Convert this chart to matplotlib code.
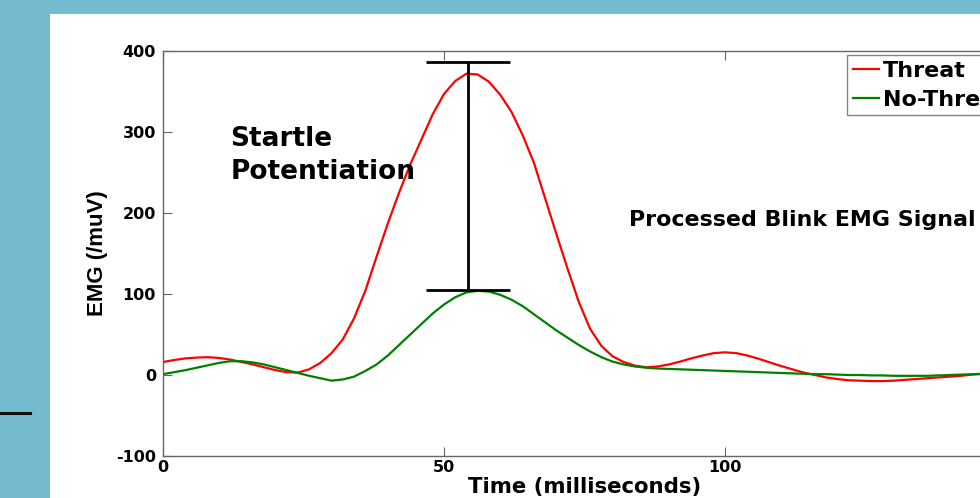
import matplotlib
matplotlib.use("Agg")
import matplotlib.pyplot as plt
from matplotlib.patches import Rectangle
from matplotlib.lines import Line2D

plt.rcParams["axes.unicode_minus"] = False

# ---- data ----
time_ms = list(range(0, 152, 2))
threat = [16, 18.5, 20.5, 21.5, 22, 21, 19, 16, 13, 9.5, 6, 3.5, 3, 7, 15, 27, 44, 70, 104, 146,
          187, 225, 260, 291, 322, 347, 363, 372, 371, 362, 346, 325, 296, 262, 218, 174, 131, 90, 57, 36,
          23, 16, 11.5, 9.5, 10.5, 13, 16.5, 20.5, 24, 27, 28, 27, 24, 20, 15.5, 11, 7, 3, 0, -3,
          -5, -6.5, -7, -7.5, -7.5, -7, -6, -5, -4, -3, -2, -1, 0.5, 1.5, 2.5, 3]
no_threat = [1, 3.5, 6, 9, 12, 15, 17, 17, 15.5, 13, 9.5, 6, 2.5, -1, -4, -7, -5.5, -2, 5, 13,
             24, 37, 50, 63, 76, 87, 96, 102, 104, 103, 99, 93, 85, 75, 65, 55, 46, 37, 29, 22,
             16.5, 13, 10.5, 9, 8, 7.5, 7, 6.5, 6, 5.5, 5, 4.5, 4, 3.5, 3, 2.5, 2, 1.5, 1, 1,
             0.5, 0, 0, -0.5, -0.5, -1, -1, -1, -1, -0.5, 0, 0.5, 1, 1.5, 2, 2.5]
series_labels = ["Threat", "No-Threat"]
bar_time = 54.3
bar_low, bar_high = 105, 386
x_ticks = [0, 50, 100]
y_ticks = [-100, 0, 100, 200, 300, 400]

BG = "#73BBCD"
FONT = "DejaVu Sans"
fig = plt.figure(figsize=(9.8, 4.98), dpi=100, facecolor=BG)
fig.patches.append(Rectangle((50/980, 0), 1 - 50/980, (498-14)/498, transform=fig.transFigure,
                             facecolor="white", edgecolor="none", zorder=-10))
fig.lines.append(Line2D([0, 30/980], [1-413/498, 1-413/498], transform=fig.transFigure,
                        color="#111111", lw=2.2, zorder=-5))

ax = fig.add_axes([163/980, 42/498, 843/980, 405/498])
ax.set_zorder(1)
ax.set_facecolor("white")
l1, = ax.plot(time_ms, threat, color="#FF0000", lw=1.6)
l2, = ax.plot(time_ms, no_threat, color="#008000", lw=1.6)

ax.errorbar([bar_time], [(bar_low + bar_high) / 2], yerr=[[(bar_high - bar_low) / 2], [(bar_high - bar_low) / 2]],
            fmt="none", ecolor="black", elinewidth=2.0, capsize=30, capthick=2.0)

ax.set_xlim(0, 150)
ax.set_ylim(-100, 400)
ax.set_xticks(x_ticks)
ax.set_yticks(y_ticks)
ax.tick_params(direction="in", length=6.5, width=0.8, color="#666666", top=True, right=True,
               labelsize=11.5)
for lab in ax.get_xticklabels() + ax.get_yticklabels():
    lab.set_fontweight("bold")
    lab.set_family(FONT)
ax.tick_params(axis="x", pad=3)
ax.tick_params(axis="y", pad=5)
for s in ax.spines.values():
    s.set_color("#666666")
    s.set_linewidth(1.0)

ax.set_xlabel("Time (milliseconds)", fontsize=15.3, fontweight="bold", family=FONT, labelpad=1)
ax.set_ylabel("EMG (/muV)", fontsize=16, fontweight="bold", family="Liberation Sans", labelpad=6)

ax.text(12, 308, "Startle\nPotentiation", fontsize=19, fontweight="bold", family=FONT,
        ha="left", va="top", linespacing=1.35)
ax.text(83, 191, "Processed Blink EMG Signal", fontsize=15.9, fontweight="bold",
        family=FONT, ha="left", va="center")

leg = fig.legend([l1, l2], series_labels, loc="upper left", bbox_to_anchor=(847/980, 1-55/498),
                 bbox_transform=fig.transFigure, prop={"family": FONT, "weight": "bold", "size": 16},
                 frameon=True, fancybox=False, edgecolor="#666666", borderpad=0.25, handlelength=1.2,
                 handletextpad=0.15, labelspacing=0.42, borderaxespad=0)
leg.get_frame().set_linewidth(1.0)
leg.set_zorder(5)

fig.savefig("out.png", dpi=100, facecolor=BG)
